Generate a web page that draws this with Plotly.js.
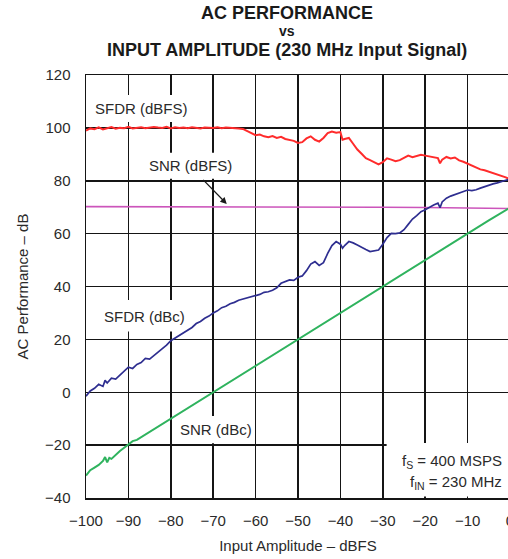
<!DOCTYPE html>
<html>
<head>
<meta charset="utf-8">
<script src="https://cdn.plot.ly/plotly-3.0.1.min.js"></script>
<style>
html,body{margin:0;padding:0;background:#fff;overflow:hidden;width:508px;height:559px;}
#chart{width:512px;height:559px;}
</style>
</head>
<body>
<div id="chart"></div>
<script>
// ---- data ----
const sfdrDbfsX = [-100,-99,-98,-97,-96,-95,-94,-93,-92,-91,-90,-89,-88,-87,-86,-85,-84,-83,-82,-81,-80,-79,-78,-77,-76,-75,-74,-73,-72,-71,-70,-69,-68,-67,-66,-65,-64,-63,-62,-61,-60,-59,-58,-57,-56,-55,-54,-53,-52,-51,-50,-49,-48,-47,-46,-45,-44,-43,-42,-41,-40,-39.5,-39,-38,-37,-36,-35,-34,-33,-32,-31,-30,-29,-28,-27,-26,-25,-24,-23,-22,-21,-20,-19,-18,-17,-16.5,-16,-15,-14,-13,-12,-11,-10,-9,-8,-7,-6,-5,-4,-3,-2,-1,0];
const sfdrDbfsY = [99.0,99.8,99.5,100.2,99.4,100.0,100.3,99.7,100.0,99.9,100.4,99.8,100.0,100.2,99.9,100.0,100.3,100.1,100.0,100.4,99.8,100.2,100.0,100.1,99.9,100.2,100.0,99.8,100.1,100.0,100.0,100.2,99.9,100.1,100.0,100.1,99.8,99.6,98.8,97.8,97.2,97.5,96.8,96.5,96.9,96.2,96.6,95.8,95.5,95.1,94.3,94.6,96.0,96.8,95.5,94.8,96.2,98.0,98.6,98.2,98.4,95.5,95.8,96.2,94.0,91.8,90.2,88.5,87.8,87.0,86.2,87.0,88.5,88.0,87.4,87.8,88.5,89.5,88.9,89.3,89.8,89.5,89.2,89.0,88.6,86.6,88.0,89.0,88.4,88.8,87.7,87.2,86.5,85.6,84.9,84.3,84.0,83.5,82.9,82.5,82.0,81.3,80.5];

const snrDbfsX = [-100,-90,-80,-70,-60,-50,-40,-30,-20,-10,-5,0];
const snrDbfsY = [70.2,70.2,70.1,70.2,70.1,70.2,70.1,70.0,69.9,69.8,69.7,69.5];

const sfdrDbcX = [-100,-99,-98,-97,-96,-95.5,-95,-94,-93,-92,-91,-90,-89,-88,-87,-86,-85,-84,-83,-82,-81,-80,-79,-78,-77,-76,-75,-74,-73,-72,-71,-70,-69,-68,-67,-66,-65,-64,-63,-62,-61,-60,-59,-58,-57,-56,-55,-54,-53,-52,-51,-50,-49,-48,-47,-46,-45,-44,-43,-42,-41,-40,-39.5,-39,-38,-37,-36,-35,-34,-33,-32,-31,-30,-29,-28,-27,-26,-25,-24,-23,-22,-21,-20,-19,-18,-17,-16.5,-16,-15,-14,-13,-12,-11,-10,-9,-8,-7,-6,-5,-4,-3,-2,-1,0];
const sfdrDbcY = [-1.5,0.5,1.5,3.0,2.2,4.5,3.5,5.3,5.0,6.5,7.8,9.5,9.0,10.5,11.2,12.8,12.5,14.0,15.2,16.5,17.8,19.5,20.5,21.8,22.5,23.8,24.5,26.0,26.8,28.0,28.8,30.0,30.8,32.0,32.5,33.5,34.0,34.8,35.2,35.8,36.0,36.5,37.0,37.8,38.0,38.6,39.5,41.2,41.8,42.5,42.3,43.5,44.0,46.0,48.5,49.4,48.0,49.0,52.5,55.5,57.0,56.0,54.5,55.5,57.0,56.5,55.7,55.0,54.0,53.2,53.6,53.8,56.0,58.5,60.1,60.0,60.3,61.5,63.5,65.5,66.8,68.3,69.0,70.0,70.8,71.5,69.8,72.0,73.4,74.2,74.8,75.5,76.0,76.5,76.3,76.6,77.2,77.8,78.3,78.8,79.2,79.8,80.2,80.6];

const snrDbcX = [-100,-99,-98,-97,-96,-95.5,-95,-94.5,-94,-93,-92,-91,-90,-89,-88,-87,-86,-85,-84,-83,-82,-81,-80,-78,-76,-74,-72,-70,-65,-60,-55,-50,-45,-40,-35,-30,-25,-20,-15,-10,-5,0];
const snrDbcY = [-31.5,-29.5,-28.5,-27.5,-26.0,-24.5,-26.5,-24.8,-25.2,-23.5,-22.2,-21.0,-19.8,-18.5,-18.0,-17.0,-16.2,-15.0,-14.2,-13.0,-12.2,-11.0,-10.0,-8.0,-6.0,-4.0,-2.0,0.0,5.0,10.0,15.0,20.0,25.0,30.0,35.0,40.0,45.0,50.0,55.0,60.0,65.0,69.8];

const xTickVals = [-100,-90,-80,-70,-60,-50,-40,-30,-20,-10,0];
const yTickVals = [-40,-20,0,20,40,60,80,100,120];

const seriesNames = ['SFDR (dBFS)','SNR (dBFS)','SFDR (dBc)','SNR (dBc)'];
// ---------------------------------------

const FONT = 'Liberation Sans, Arial, Helvetica, sans-serif';
const TXT = '#2a2a2a';
const GRID = '#151515';

const traces = [
  {x: sfdrDbfsX, y: sfdrDbfsY, name: seriesNames[0], mode: 'lines', line: {color: '#ff2b2b', width: 2}},
  {x: snrDbfsX, y: snrDbfsY, name: seriesNames[1], mode: 'lines', line: {color: '#cc55bb', width: 1.6}},
  {x: sfdrDbcX, y: sfdrDbcY, name: seriesNames[2], mode: 'lines', line: {color: '#2e2e90', width: 1.7}},
  {x: snrDbcX, y: snrDbcY, name: seriesNames[3], mode: 'lines', line: {color: '#2fb35e', width: 2}}
];

function label(text, x, y) {
  return {text: text, x: x, y: y, xref: 'x', yref: 'y', showarrow: false,
          font: {family: FONT, size: 15, color: TXT}, xanchor: 'center', yanchor: 'middle'};
}
function whiteBox(x0, x1, y0, y1) {
  return {type: 'rect', xref: 'x', yref: 'y', x0: x0, x1: x1, y0: y0, y1: y1,
          fillcolor: '#ffffff', line: {width: 0}, layer: 'between'};
}
// paper y for a pixel row: (498 - py) / 423
function titleLine(text, py, size) {
  return {text: '<b>' + text + '</b>', xref: 'paper', yref: 'paper', x: 0.4752, y: (498 - py) / 423,
          showarrow: false, xanchor: 'center', yanchor: 'middle',
          font: {family: FONT, size: size, color: '#1a1a1a'}};
}

const layout = {
  width: 512, height: 559,
  margin: {l: 86, r: 2, t: 75, b: 61},
  paper_bgcolor: '#ffffff', plot_bgcolor: '#ffffff',
  showlegend: false,
  xaxis: {
    range: [-100, 0], tickvals: xTickVals, ticks: '', ticklabelstandoff: 8,
    ticklabeloverflow: 'allow',
    showgrid: true, gridcolor: GRID, gridwidth: 1.5, zeroline: false,
    showline: true, linecolor: GRID, linewidth: 1.5, mirror: true,
    tickfont: {family: FONT, size: 15, color: TXT},
    title: {text: 'Input Amplitude – dBFS', font: {family: FONT, size: 15, color: TXT}, standoff: 13}
  },
  yaxis: {
    range: [-40, 120], tickvals: yTickVals, ticks: '', ticklabelstandoff: 11,
    showgrid: true, gridcolor: GRID, gridwidth: 1.5, zeroline: false,
    showline: true, linecolor: GRID, linewidth: 1.5,
    tickfont: {family: FONT, size: 15, color: TXT},
    title: {text: 'AC Performance – dB', font: {family: FONT, size: 15, color: TXT}, standoff: 13}
  },
  shapes: [
    whiteBox(-98.8, -75.5, 102.2, 112.4),
    whiteBox(-86.0, -64.3, 80.8, 90.6),
    whiteBox(-97.2, -75.9, 23.0, 34.9),
    whiteBox(-78.3, -60.9, -19.3, -9.0),
    whiteBox(-29.1, 1.0, -39.4, -19.2)
  ],
  annotations: [
    titleLine('AC PERFORMANCE', 13, 18),
    titleLine('vs', 31.5, 14),
    titleLine('INPUT AMPLITUDE (230 MHz Input Signal)', 50, 18),
    label(seriesNames[0], -87.0, 107.5),
    label(seriesNames[1], -75.3, 85.6),
    label(seriesNames[2], -86.3, 28.7),
    label(seriesNames[3], -69.3, -14.2),
    {x: -66.8, y: 71.2, ax: -72.7, ay: 80.9, xref: 'x', yref: 'y', axref: 'x', ayref: 'y',
     text: '', showarrow: true, arrowhead: 2, arrowsize: 1, arrowwidth: 1.3, arrowcolor: '#1a1a1a'},
    {text: 'f<sub>S</sub> = 400 MSPS', x: -1.4, y: -26.3, xref: 'x', yref: 'y', showarrow: false,
     xanchor: 'right', yanchor: 'middle', font: {family: FONT, size: 15, color: TXT}},
    {text: 'f<sub>IN</sub> = 230 MHz', x: -1.4, y: -34.3, xref: 'x', yref: 'y', showarrow: false,
     xanchor: 'right', yanchor: 'middle', font: {family: FONT, size: 15, color: TXT}}
  ]
};

Plotly.newPlot('chart', traces, layout, {staticPlot: true, displayModeBar: false});
</script>
</body>
</html>
